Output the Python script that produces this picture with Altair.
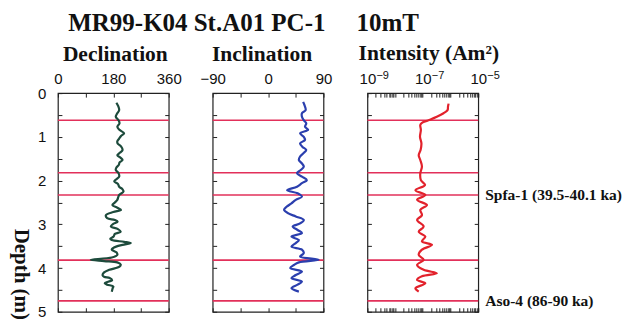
import altair as alt
import pandas as pd

# ---------------- data ----------------
dec_depth = [0.22, 0.30, 0.39, 0.47, 0.54, 0.62, 0.69, 0.77, 0.84, 0.92, 0.98, 1.04, 1.10, 1.15,
             1.22, 1.30, 1.36, 1.42, 1.48, 1.53, 1.59, 1.64, 1.70, 1.76, 1.83, 1.91, 1.97, 2.02,
             2.08, 2.14, 2.20, 2.25, 2.33, 2.38, 2.44, 2.50, 2.56, 2.62, 2.67, 2.72, 2.79, 2.86,
             2.90, 2.94, 3.00, 3.05, 3.11, 3.17, 3.22, 3.28, 3.33, 3.36, 3.40, 3.43, 3.47, 3.51,
             3.55, 3.58, 3.64, 3.70, 3.76, 3.81, 3.84, 3.87, 3.92, 3.97, 4.04, 4.10, 4.16, 4.20,
             4.23, 4.28, 4.31, 4.35, 4.38, 4.42, 4.46, 4.54]
dec_value = [190, 196, 199, 192, 188, 197, 200, 193, 200, 215, 205, 199, 193, 194,
             205, 210, 202, 193, 204, 210, 200, 198, 190, 188, 197, 199, 190, 183,
             195, 199, 210, 213, 199, 196, 193, 185, 177, 193, 205, 180, 156, 160,
             185, 194, 178, 172, 195, 204, 185, 181, 170, 175, 215, 237, 210, 189,
             178, 175, 190, 193, 175, 107, 150, 193, 204, 200, 167, 150, 145, 150,
             168, 176, 165, 152, 160, 180, 178, 175]

inc_depth = [0.20, 0.27, 0.39, 0.46, 0.54, 0.62, 0.69, 0.77, 0.84, 0.92, 1.00, 1.07, 1.15, 1.23,
             1.30, 1.38, 1.45, 1.53, 1.61, 1.68, 1.76, 1.83, 1.91, 1.99, 2.06, 2.14, 2.22, 2.29,
             2.37, 2.44, 2.52, 2.60, 2.67, 2.75, 2.82, 2.90, 2.98, 3.05, 3.13, 3.20, 3.28, 3.36,
             3.43, 3.51, 3.58, 3.66, 3.74, 3.81, 3.87, 3.93, 4.00, 4.08, 4.16, 4.23, 4.31, 4.38,
             4.46, 4.54]
inc_value = [57, 59, 61, 55, 55, 58, 62, 60, 65, 52, 58, 60, 52, 56,
             62, 57, 52, 50, 55, 58, 53, 47, 55, 63, 55, 47, 31, 48,
             55, 45, 38, 30, 26, 33, 45, 58, 52, 40, 48, 55, 38, 50,
             45, 38, 55, 58, 52, 82, 50, 42, 36, 55, 45, 38, 55, 48,
             38, 50]

int_depth = [0.24, 0.31, 0.39, 0.46, 0.54, 0.62, 0.68, 0.73, 0.84, 1.00, 1.15, 1.30, 1.42, 1.53,
             1.68, 1.83, 1.99, 2.10, 2.22, 2.33, 2.44, 2.56, 2.67, 2.79, 2.90, 3.05, 3.17, 3.28,
             3.39, 3.47, 3.58, 3.70, 3.81, 3.93, 4.04, 4.12, 4.19, 4.27, 4.35, 4.46, 4.54]
int_value = [8.5e-7, 8.1e-7, 7.8e-7, 5.6e-7, 3.2e-7, 1.6e-7, 9.3e-8, 8.1e-8, 8.5e-8, 7.9e-8,
             8.9e-8, 8.3e-8, 7.1e-8, 8.1e-8, 9.3e-8, 8.1e-8, 8.5e-8, 1.2e-7, 5.4e-8, 1.23e-7,
             6.2e-8, 1.41e-7, 8.1e-8, 9.3e-8, 6.2e-8, 1.07e-7, 7.1e-8, 1.23e-7, 9.3e-8, 2.14e-7,
             9.3e-8, 7.1e-8, 1.07e-7, 6.2e-8, 1.07e-7, 3.2e-7, 9.3e-8, 6.2e-8, 1.23e-7, 5.4e-8,
             7.1e-8]

tephra_depth = [0.62, 1.82, 2.33, 3.82, 4.75]
tephra_label = ["", "", "Spfa-1 (39.5-40.1 ka)", "", "Aso-4 (86-90 ka)"]

depth_ticks = [0, 0.5, 1, 1.5, 2, 2.5, 3, 3.5, 4, 4.5, 5]
dec_ticks = [0, 90, 180, 270, 360]
inc_ticks = [-90, -45, 0, 45, 90]
int_ticks = [k * 10.0 ** e for e in range(-9, -5) for k in range(1, 10)] + [1e-5]
int_label_values = [1e-9, 1e-7, 1e-5]
int_label_exponents = ["\u22129", "\u22127", "\u22125"]

main_title = "MR99-K04 St.A01 PC-1\u00a0\u00a0\u00a0\u00a0 10mT"

# ---------------- chart ----------------
W, H = 111, 219
SERIF = "Liberation Serif"
SANS = "Liberation Sans"
RED_LINE = "#e2305a"

yscale = alt.Scale(domain=[0, 5], reverse=True, nice=False, zero=False)

common = dict(tickSize=4, offset=-4, domain=False, grid=False, tickColor="#222",
              tickWidth=1, labelFont=SANS, labelFontSize=15, labelColor="#111",
              labelOverlap=False, labelFlush=False)

tephra_df = pd.DataFrame({"d": tephra_depth, "name": tephra_label})
exp_df = pd.DataFrame({"v": int_label_values, "e": int_label_exponents})


def panel(df, field, scale, ticks, label_expr, title, title_dx, color, first=False, last=False):
    base = alt.Chart(df)
    top_axis = alt.Axis(orient="top", values=ticks, labelExpr=label_expr, labelPadding=7,
                        title=None, **common)
    bottom_axis = alt.Axis(orient="bottom", values=ticks, labels=False, title=None, **common)
    if first:
        left_axis = alt.Axis(orient="left", values=depth_ticks,
                             labelExpr="datum.value % 1 == 0 ? format(datum.value, 'd') : ''",
                             labelPadding=12, title="Depth (m)", titleFont=SERIF,
                             titleFontSize=21, titleFontWeight="bold", titleAngle=90,
                             titleX=-41, titleY=181, titleAlign="center",
                             titleBaseline="middle", titleColor="#111", **common)
    else:
        left_axis = alt.Axis(orient="left", values=depth_ticks, labels=False, title=None, **common)
    right_axis = alt.Axis(orient="right", values=depth_ticks, labels=False, title=None, **common)

    rules = alt.Chart(tephra_df).mark_rule(color=RED_LINE, strokeWidth=1.6).encode(
        y=alt.Y("d:Q", scale=yscale, axis=None)
    )
    line = base.mark_line(color=color, strokeWidth=2.2, interpolate="catmull-rom").encode(
        x=alt.X(f"{field}:Q", scale=scale, axis=top_axis),
        y=alt.Y("depth:Q", scale=yscale, axis=left_axis),
        order=alt.Order("depth:Q"),
    )
    ghost = base.mark_point(opacity=0).encode(
        x=alt.X(f"{field}:Q", scale=scale, axis=bottom_axis),
        y=alt.Y("depth:Q", scale=yscale, axis=right_axis),
    )
    layers = [rules, line, ghost]
    if last:
        text = alt.Chart(tephra_df).mark_text(
            align="left", baseline="middle", font=SERIF, fontSize=15.5,
            fontWeight="bold", color="#111"
        ).encode(
            x=alt.value(W + 7),
            y=alt.Y("d:Q", scale=yscale, axis=None),
            text="name:N",
        )
        exps = alt.Chart(exp_df).mark_text(
            align="left", baseline="middle", font=SANS, fontSize=11, color="#111", dx=9
        ).encode(
            x=alt.X("v:Q", scale=scale, axis=None),
            y=alt.value(-17),
            text="e:N",
        )
        layers += [text, exps]
    return alt.layer(*layers).resolve_axis(x="independent", y="independent").properties(
        width=W, height=H,
        title=alt.TitleParams(title, font=SERIF, fontSize=21.5, fontWeight="bold",
                              anchor="middle", offset=6, color="#111", dx=title_dx),
    )


dec_df = pd.DataFrame({"depth": dec_depth, "v": dec_value})
inc_df = pd.DataFrame({"depth": inc_depth, "v": inc_value})
int_df = pd.DataFrame({"depth": int_depth, "v": int_value})

p1 = panel(dec_df, "v", alt.Scale(domain=[0, 360], nice=False, zero=False), dec_ticks,
           "datum.value % 180 == 0 ? format(datum.value, 'd') : ''",
           "Declination", 2, "#1d4b3c", first=True)
p2 = panel(inc_df, "v", alt.Scale(domain=[-90, 90], nice=False, zero=False), inc_ticks,
           "datum.value % 90 == 0 ? (datum.value < 0 ? '\u221290' : format(datum.value, 'd')) : ''",
           "Inclination", -6, "#2b3fae")
p3 = panel(int_df, "v", alt.Scale(type="log", domain=[1e-9, 1e-5], nice=False), int_ticks,
           "(abs(datum.value - 1e-9) < 1e-12 || abs(datum.value - 1e-7) < 1e-10 || "
           "abs(datum.value - 1e-5) < 1e-8) ? '10' : ''",
           "Intensity (Am\u00b2)", 6, "#e2222c", last=True)

chart = alt.hconcat(p1, p2, p3, spacing=44, bounds="flush").properties(
    title=alt.TitleParams(main_title, font=SERIF, fontSize=25, fontWeight="bold",
                          anchor="start", color="#111", offset=6, dx=58),
    padding={"left": 10, "top": 10, "right": 5, "bottom": 5},
    background="white",
).configure_view(stroke="#222", strokeWidth=1.2)

chart.save("out.html", embed_options={"renderer": "svg", "actions": False})
